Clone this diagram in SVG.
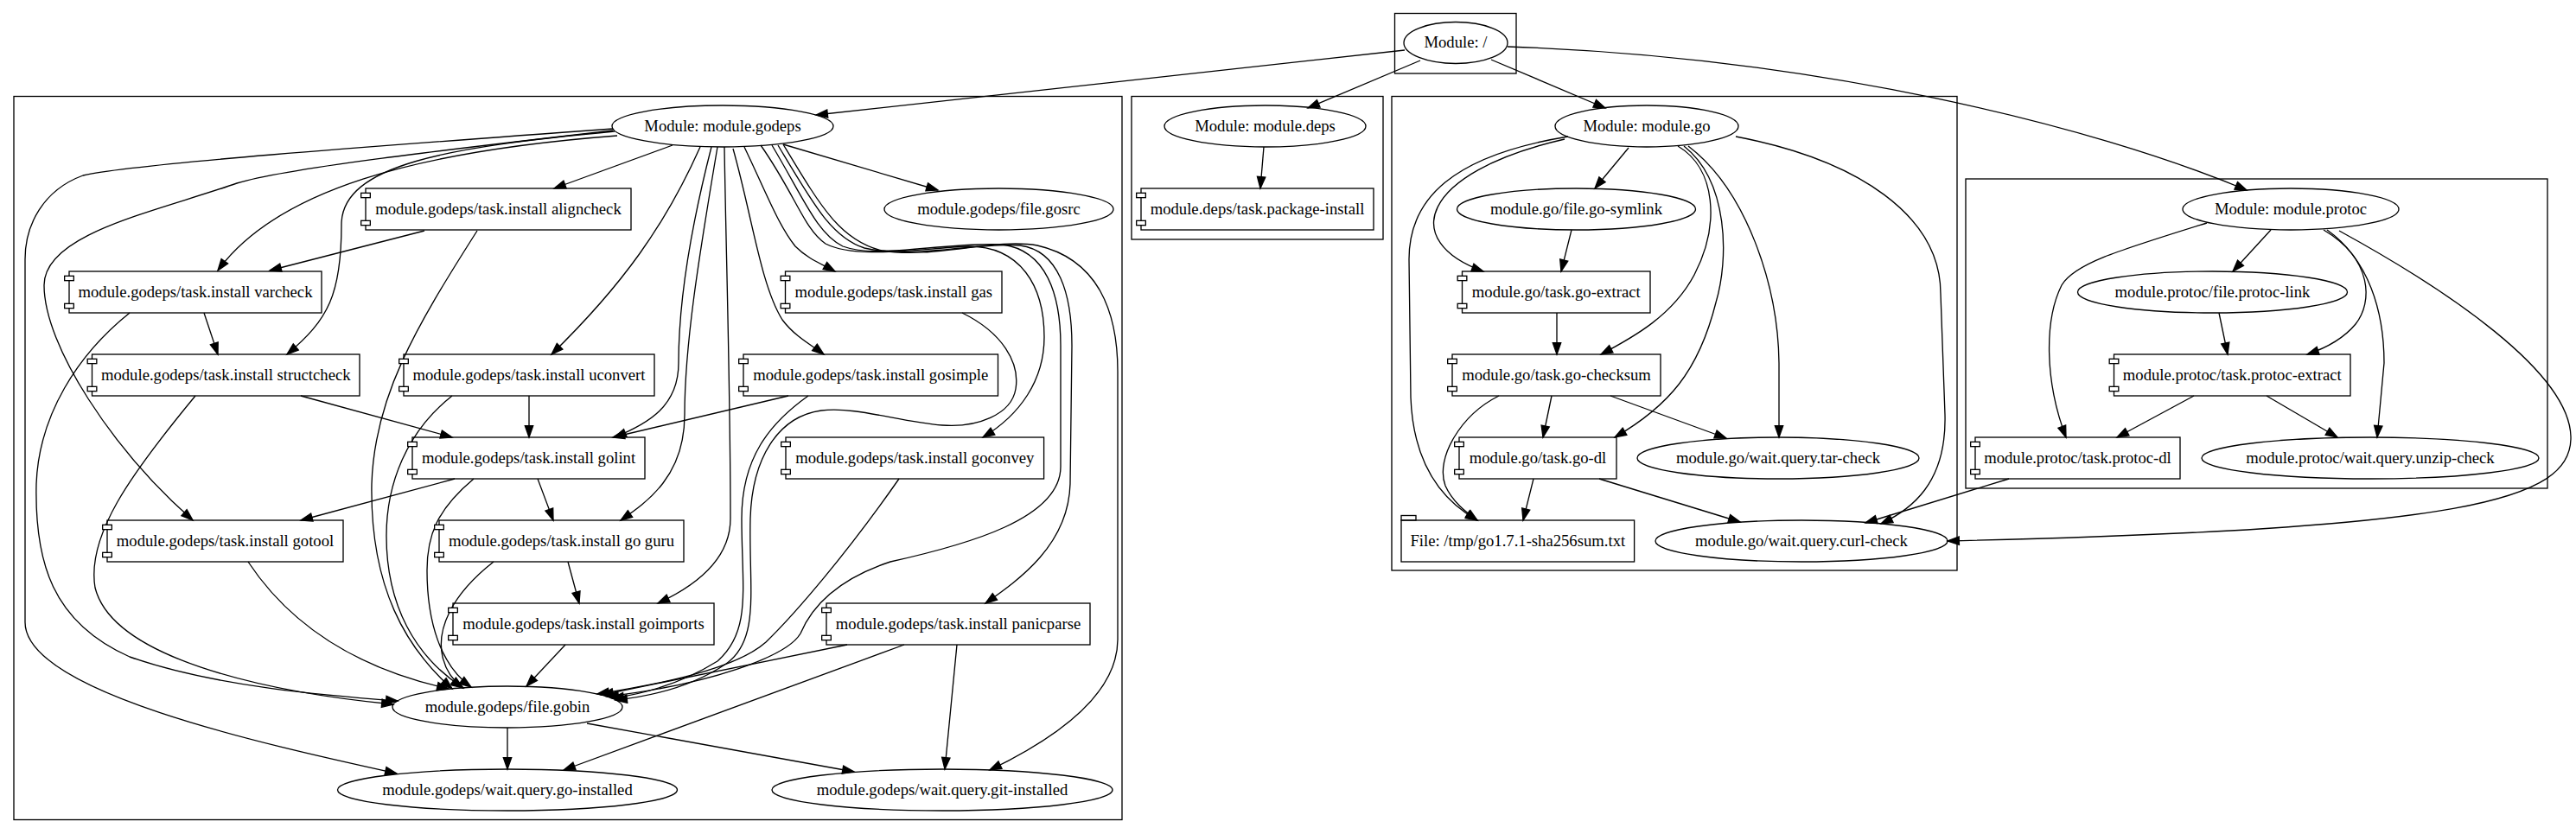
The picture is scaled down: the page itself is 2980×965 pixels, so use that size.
<svg xmlns="http://www.w3.org/2000/svg" width="2980" height="965" viewBox="0 0 2980 965">
<defs>
<style>
.cl{fill:none;stroke:#000;stroke-width:1.33}
.nd{fill:none;stroke:#000;stroke-width:1.33}
.nub{fill:#fff;stroke:#000;stroke-width:1.33}
.t{font-family:"Liberation Serif","Times New Roman",serif;font-size:18.67px;text-anchor:middle;fill:#000}
.e{fill:none;stroke:#000;stroke-width:1.33;marker-end:url(#ah)}
</style>
<marker id="ah" markerUnits="userSpaceOnUse" markerWidth="16" markerHeight="12" refX="13.33" refY="0" orient="auto" viewBox="-1 -6 16 12" overflow="visible">
<path d="M0,-4.67 L13.33,0 L0,4.67 Z" fill="#000" stroke="#000" stroke-width="1.33"/>
</marker>
</defs>
<rect x="0" y="0" width="2980" height="965" fill="#fff"/>

<g id="clusters">
<rect class="cl" x="1613.5" y="15.5" width="140.5" height="69.5"/>
<rect class="cl" x="16" y="111.5" width="1282" height="837"/>
<rect class="cl" x="1309" y="111.5" width="291" height="165.5"/>
<rect class="cl" x="1610" y="111.5" width="654" height="548.5"/>
<rect class="cl" x="2274" y="207" width="673" height="358"/>
</g>

<g id="edges">
<path class="e" d="M1625,58 L944,133"/>
<path class="e" d="M1643,70 L1513,125"/>
<path class="e" d="M1725,69 L1857,125"/>
<path class="e" d="M1744,54 C2100,66 2420,145 2599,220"/>
<path class="e" d="M1462,170 L1458,218"/>

<path class="e" d="M778,168 L641,218"/>
<path class="e" d="M714,157 C480,175 320,220 252,313"/>
<path class="e" d="M711,152 C520,170 395,190 395,260 C395,340 380,370 332,410"/>
<path class="e" d="M709,151 C500,175 330,195 274,212 C180,245 51,270 51,330 C51,400 130,520 223,602"/>
<path class="e" d="M709,149 C420,170 150,190 96,203 C50,220 29,260 29,300 L29,720 C29,800 300,860 459,895"/>
<path class="e" d="M810,170 C770,260 720,330 638,410"/>
<path class="e" d="M823,170 C800,260 785,350 785,420 C785,470 750,490 711,506"/>
<path class="e" d="M830,170 C808,300 792,400 792,480 C792,550 750,580 718,602"/>
<path class="e" d="M838,170 C840,300 845,450 845,600 C845,650 800,680 761,698"/>
<path class="e" d="M848,172 C870,250 880,330 905,370 C920,390 940,400 953,410"/>
<path class="e" d="M861,170 C885,220 900,260 920,285 C935,300 950,305 966,314"/>
<path class="e" d="M906,167 L1085,220"/>
<path class="e" d="M880,168 C920,225 930,265 955,282 C990,300 1060,288 1120,285 C1180,285 1208,330 1208,390 C1208,440 1180,480 1137,506"/>
<path class="e" d="M893,168 C930,230 945,270 975,285 C1015,300 1090,280 1160,283 C1210,290 1227,340 1227,400 L1227,540 C1227,600 1120,630 1030,650 C970,670 940,700 926,733 C910,760 820,792 702,806"/>
<path class="e" d="M900,168 C940,235 962,275 1000,287 C1060,300 1130,280 1180,284 C1225,290 1240,340 1240,400 L1238,560 C1236,630 1180,670 1140,698"/>
<path class="e" d="M906,167 C950,240 972,278 1020,290 C1080,300 1150,275 1200,284 C1270,300 1293,360 1293,430 L1293,740 C1293,800 1230,850 1145,891"/>

<path class="e" d="M491,267 L312,313"/>
<path class="e" d="M552,267 C480,380 433,460 430,560 C428,680 470,750 523,797"/>
<path class="e" d="M236,362 L252,410"/>
<path class="e" d="M150,362 C90,410 45,480 42,560 C40,650 60,720 150,760 C250,795 380,805 460,811"/>
<path class="e" d="M348,458 L523,506"/>
<path class="e" d="M226,458 C150,550 100,620 110,680 C130,760 300,800 455,815"/>
<path class="e" d="M612,458 L612,506"/>
<path class="e" d="M523,458 C470,500 447,560 447,620 C447,700 480,760 536,796"/>
<path class="e" d="M912,458 L709,506"/>
<path class="e" d="M935,458 C890,490 858,530 858,600 C858,680 870,730 830,765 C790,790 750,802 708,808"/>
<path class="e" d="M1113,362 C1160,385 1180,420 1175,450 C1170,480 1130,495 1090,492 C1040,488 990,470 950,475 C900,482 870,530 868,600 C866,680 880,740 840,768 C800,795 750,806 712,810"/>
<path class="e" d="M526,554 L348,602"/>
<path class="e" d="M622,554 L640,602"/>
<path class="e" d="M548,554 C505,590 494,620 494,660 C494,720 510,770 545,795"/>
<path class="e" d="M287,650 C340,730 420,775 519,797"/>
<path class="e" d="M657,650 L670,698"/>
<path class="e" d="M571,650 C520,690 505,730 512,760 C516,778 525,788 535,796"/>
<path class="e" d="M654,746 L609,794"/>
<path class="e" d="M1040,554 C980,640 920,710 886,743 C850,775 760,792 691,803"/>
<path class="e" d="M980,746 L696,804"/>
<path class="e" d="M1046,746 L652,891"/>
<path class="e" d="M1107,746 L1093,890"/>
<path class="e" d="M587,842 L587,890"/>
<path class="e" d="M679,837 L988,893"/>

<path class="e" d="M1884,171 L1845,218"/>
<path class="e" d="M1810,161 C1640,200 1620,280 1716,314"/>
<path class="e" d="M1814,158 C1680,180 1630,230 1630,300 L1632,460 C1635,540 1670,580 1709,602"/>
<path class="e" d="M1941,169 C1985,195 1990,260 1960,318 C1935,365 1890,390 1852,410"/>
<path class="e" d="M1948,169 C2000,210 2000,300 1985,350 C1965,430 1930,470 1868,506"/>
<path class="e" d="M1953,169 C2020,220 2057,330 2058,420 L2058,506"/>
<path class="e" d="M2008,158 C2150,185 2245,250 2245,340 L2250,480 C2252,560 2210,590 2176,606"/>
<path class="e" d="M1818,266 L1806,314"/>
<path class="e" d="M1801,362 L1801,410"/>
<path class="e" d="M1795,458 L1785,506"/>
<path class="e" d="M1734,458 C1690,480 1660,530 1672,562 C1680,580 1695,592 1709,602"/>
<path class="e" d="M1863,458 L1997,507"/>
<path class="e" d="M1774,554 L1762,602"/>
<path class="e" d="M1850,554 L2013,604"/>
<path class="e" d="M2324,554 L2158,605"/>
<path class="e" d="M2706,267 C2830,335 2972,430 2974,505 C2976,580 2850,612 2253,626"/>

<path class="e" d="M2627,266 L2583,314"/>
<path class="e" d="M2553,258 C2450,290 2400,305 2385,330 C2365,370 2365,440 2390,506"/>
<path class="e" d="M2688,266 C2745,300 2745,350 2725,375 C2710,393 2690,403 2669,410"/>
<path class="e" d="M2692,266 C2740,300 2758,360 2758,420 L2750,506"/>
<path class="e" d="M2567,362 L2577,410"/>
<path class="e" d="M2538,458 L2449,506"/>
<path class="e" d="M2622,458 L2704,506"/>
</g>

<g id="n-root"><ellipse class="nd" cx="1684" cy="49.5" rx="60" ry="24"/><text class="t" x="1684" y="55.1">Module: /</text></g>

<g id="n-godeps"><ellipse class="nd" cx="836" cy="146" rx="128" ry="24"/><text class="t" x="836" y="151.6">Module: module.godeps</text></g>
<g id="n-gosrc"><ellipse class="nd" cx="1155.5" cy="242" rx="132.5" ry="24"/><text class="t" x="1155.5" y="247.6">module.godeps/file.gosrc</text></g>
<g id="n-gobin"><ellipse class="nd" cx="587" cy="818" rx="133" ry="24"/><text class="t" x="587" y="823.6">module.godeps/file.gobin</text></g>
<g id="n-goinstalled"><ellipse class="nd" cx="587" cy="914" rx="196.5" ry="24"/><text class="t" x="587" y="919.6">module.godeps/wait.query.go-installed</text></g>
<g id="n-gitinstalled"><ellipse class="nd" cx="1090" cy="914" rx="197" ry="24"/><text class="t" x="1090" y="919.6">module.godeps/wait.query.git-installed</text></g>

<g id="n-aligncheck"><rect class="nd" x="423" y="218" width="307" height="48"/><rect class="nub" x="417.67" y="223.33" width="10.67" height="5.33"/><rect class="nub" x="417.67" y="255.33" width="10.67" height="5.33"/><text class="t" x="576.5" y="247.6">module.godeps/task.install aligncheck</text></g>
<g id="n-varcheck"><rect class="nd" x="80" y="314" width="292" height="48"/><rect class="nub" x="74.67" y="319.33" width="10.67" height="5.33"/><rect class="nub" x="74.67" y="351.33" width="10.67" height="5.33"/><text class="t" x="226" y="343.6">module.godeps/task.install varcheck</text></g>
<g id="n-gas"><rect class="nd" x="908.5" y="314" width="250.5" height="48"/><rect class="nub" x="903.17" y="319.33" width="10.67" height="5.33"/><rect class="nub" x="903.17" y="351.33" width="10.67" height="5.33"/><text class="t" x="1033.75" y="343.6">module.godeps/task.install gas</text></g>
<g id="n-structcheck"><rect class="nd" x="106.5" y="410" width="309.5" height="48"/><rect class="nub" x="101.17" y="415.33" width="10.67" height="5.33"/><rect class="nub" x="101.17" y="447.33" width="10.67" height="5.33"/><text class="t" x="261.25" y="439.6">module.godeps/task.install structcheck</text></g>
<g id="n-uconvert"><rect class="nd" x="467" y="410" width="290" height="48"/><rect class="nub" x="461.67" y="415.33" width="10.67" height="5.33"/><rect class="nub" x="461.67" y="447.33" width="10.67" height="5.33"/><text class="t" x="612" y="439.6">module.godeps/task.install uconvert</text></g>
<g id="n-gosimple"><rect class="nd" x="860" y="410" width="294.5" height="48"/><rect class="nub" x="854.67" y="415.33" width="10.67" height="5.33"/><rect class="nub" x="854.67" y="447.33" width="10.67" height="5.33"/><text class="t" x="1007.25" y="439.6">module.godeps/task.install gosimple</text></g>
<g id="n-golint"><rect class="nd" x="477" y="506" width="269" height="48"/><rect class="nub" x="471.67" y="511.33" width="10.67" height="5.33"/><rect class="nub" x="471.67" y="543.33" width="10.67" height="5.33"/><text class="t" x="611.5" y="535.6">module.godeps/task.install golint</text></g>
<g id="n-goconvey"><rect class="nd" x="909" y="506" width="298.6" height="48"/><rect class="nub" x="903.67" y="511.33" width="10.67" height="5.33"/><rect class="nub" x="903.67" y="543.33" width="10.67" height="5.33"/><text class="t" x="1058.3" y="535.6">module.godeps/task.install goconvey</text></g>
<g id="n-gotool"><rect class="nd" x="124" y="602" width="273" height="48"/><rect class="nub" x="118.67" y="607.33" width="10.67" height="5.33"/><rect class="nub" x="118.67" y="639.33" width="10.67" height="5.33"/><text class="t" x="260.5" y="631.6">module.godeps/task.install gotool</text></g>
<g id="n-goguru"><rect class="nd" x="508" y="602" width="283" height="48"/><rect class="nub" x="502.67" y="607.33" width="10.67" height="5.33"/><rect class="nub" x="502.67" y="639.33" width="10.67" height="5.33"/><text class="t" x="649.5" y="631.6">module.godeps/task.install go guru</text></g>
<g id="n-goimports"><rect class="nd" x="524" y="698" width="302" height="48"/><rect class="nub" x="518.67" y="703.33" width="10.67" height="5.33"/><rect class="nub" x="518.67" y="735.33" width="10.67" height="5.33"/><text class="t" x="675" y="727.6">module.godeps/task.install goimports</text></g>
<g id="n-panicparse"><rect class="nd" x="956" y="698" width="305" height="48"/><rect class="nub" x="950.67" y="703.33" width="10.67" height="5.33"/><rect class="nub" x="950.67" y="735.33" width="10.67" height="5.33"/><text class="t" x="1108.5" y="727.6">module.godeps/task.install panicparse</text></g>

<g id="n-deps"><ellipse class="nd" cx="1463.5" cy="146" rx="116.5" ry="24"/><text class="t" x="1463.5" y="151.6">Module: module.deps</text></g>
<g id="n-pkginstall"><rect class="nd" x="1320" y="218" width="269" height="48"/><rect class="nub" x="1314.67" y="223.33" width="10.67" height="5.33"/><rect class="nub" x="1314.67" y="255.33" width="10.67" height="5.33"/><text class="t" x="1454.5" y="247.6">module.deps/task.package-install</text></g>

<g id="n-go"><ellipse class="nd" cx="1905" cy="146" rx="106" ry="24"/><text class="t" x="1905" y="151.6">Module: module.go</text></g>
<g id="n-gosymlink"><ellipse class="nd" cx="1823.5" cy="242" rx="138" ry="24"/><text class="t" x="1823.5" y="247.6">module.go/file.go-symlink</text></g>
<g id="n-goextract"><rect class="nd" x="1691.5" y="314" width="217.5" height="48"/><rect class="nub" x="1686.17" y="319.33" width="10.67" height="5.33"/><rect class="nub" x="1686.17" y="351.33" width="10.67" height="5.33"/><text class="t" x="1800.25" y="343.6">module.go/task.go-extract</text></g>
<g id="n-gochecksum"><rect class="nd" x="1680" y="410" width="241" height="48"/><rect class="nub" x="1674.67" y="415.33" width="10.67" height="5.33"/><rect class="nub" x="1674.67" y="447.33" width="10.67" height="5.33"/><text class="t" x="1800.5" y="439.6">module.go/task.go-checksum</text></g>
<g id="n-godl"><rect class="nd" x="1688" y="506" width="182" height="48"/><rect class="nub" x="1682.67" y="511.33" width="10.67" height="5.33"/><rect class="nub" x="1682.67" y="543.33" width="10.67" height="5.33"/><text class="t" x="1779" y="535.6">module.go/task.go-dl</text></g>
<g id="n-tarcheck"><ellipse class="nd" cx="2057" cy="530" rx="163" ry="24"/><text class="t" x="2057" y="535.6">module.go/wait.query.tar-check</text></g>
<g id="n-file"><rect class="nd" x="1621" y="602" width="269.6" height="48"/><rect class="nd" x="1621" y="596.5" width="17" height="5.5"/><text class="t" x="1755.8" y="631.6">File: /tmp/go1.7.1-sha256sum.txt</text></g>
<g id="n-curlcheck"><ellipse class="nd" cx="2084" cy="626" rx="169" ry="24"/><text class="t" x="2084" y="631.6">module.go/wait.query.curl-check</text></g>

<g id="n-protoc"><ellipse class="nd" cx="2650" cy="242" rx="125" ry="24"/><text class="t" x="2650" y="247.6">Module: module.protoc</text></g>
<g id="n-protoclink"><ellipse class="nd" cx="2559.5" cy="338" rx="156" ry="24"/><text class="t" x="2559.5" y="343.6">module.protoc/file.protoc-link</text></g>
<g id="n-protocextract"><rect class="nd" x="2445.5" y="410" width="273.5" height="48"/><rect class="nub" x="2440.17" y="415.33" width="10.67" height="5.33"/><rect class="nub" x="2440.17" y="447.33" width="10.67" height="5.33"/><text class="t" x="2582.25" y="439.6">module.protoc/task.protoc-extract</text></g>
<g id="n-protocdl"><rect class="nd" x="2285" y="506" width="237" height="48"/><rect class="nub" x="2279.67" y="511.33" width="10.67" height="5.33"/><rect class="nub" x="2279.67" y="543.33" width="10.67" height="5.33"/><text class="t" x="2403.5" y="535.6">module.protoc/task.protoc-dl</text></g>
<g id="n-unzipcheck"><ellipse class="nd" cx="2742" cy="530" rx="195" ry="24"/><text class="t" x="2742" y="535.6">module.protoc/wait.query.unzip-check</text></g>
</svg>
